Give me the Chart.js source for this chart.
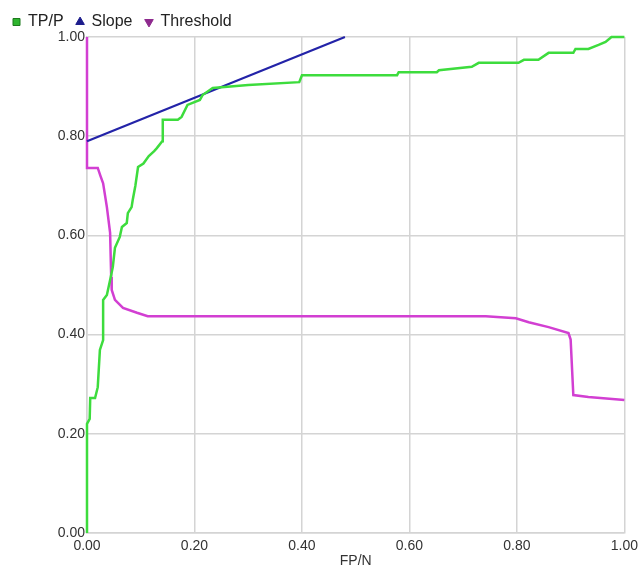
<!DOCTYPE html>
<html>
<head>
<meta charset="utf-8">
<script src="https://cdn.jsdelivr.net/npm/chart.js@4"></script>
<style>
  html, body { margin: 0; padding: 0; background: #fff; }
  #roc { display: block; }
</style>
</head>
<body>
<canvas id="roc" width="643" height="570"></canvas>
<script>
// series
const tpX = [0, 0, 0.005, 0.006, 0.015, 0.02, 0.024, 0.03, 0.03, 0.037, 0.043, 0.048, 0.052, 0.061, 0.065, 0.074, 0.076, 0.083, 0.085,
  0.09, 0.095, 0.105, 0.115, 0.125, 0.13, 0.14, 0.141, 0.169, 0.176, 0.187, 0.21, 0.215, 0.234, 0.3, 0.395, 0.4, 0.577, 0.58, 0.651,
  0.655, 0.716, 0.729, 0.803, 0.813, 0.84, 0.859, 0.905, 0.909, 0.933, 0.952, 0.965, 0.976, 1.0];
const tpY = [0, 0.22, 0.23, 0.272, 0.272, 0.294, 0.369, 0.389, 0.47, 0.48, 0.51, 0.536, 0.575, 0.597, 0.617, 0.625, 0.645, 0.657, 0.671,
  0.7, 0.738, 0.745, 0.76, 0.77, 0.776, 0.79, 0.833, 0.833, 0.839, 0.863, 0.873, 0.883, 0.897, 0.903, 0.909, 0.923, 0.923, 0.929, 0.929,
  0.933, 0.94, 0.948, 0.948, 0.954, 0.954, 0.968, 0.968, 0.976, 0.976, 0.984, 0.99, 1.0, 1.0];

const slopeX = [0, 0.48];
const slopeY = [0.79, 1.0];

const thrX = [0, 0, 0.02, 0.025, 0.03, 0.037, 0.043, 0.045, 0.046, 0.052, 0.067, 0.093, 0.113, 0.742, 0.798, 0.822, 0.859, 0.896, 0.9,
  0.905, 0.933, 1.0];
const thrY = [1.0, 0.736, 0.736, 0.72, 0.705, 0.657, 0.605, 0.516, 0.49, 0.47, 0.454, 0.444, 0.437, 0.437, 0.433, 0.425, 0.415, 0.403,
  0.39, 0.278, 0.274, 0.268];

const axisTicks = [0, 0.2, 0.4, 0.6, 0.8, 1.0];

function pts(xs, ys) {
  return xs.map((x, i) => ({ x: x, y: ys[i] }));
}

const font = { family: 'Liberation Sans, Arial, sans-serif', size: 14 };

const ctx = document.getElementById('roc').getContext('2d');
new Chart(ctx, {
  type: 'line',
  data: {
    datasets: [
      {
        label: 'TP/P',
        data: pts(tpX, tpY),
        borderColor: '#3ddc3d',
        borderWidth: 2.5,
        pointRadius: 0,
        pointStyle: 'rect',
        pointBackgroundColor: '#2fb52f',
        pointBorderColor: '#1d7a1d',
        pointBorderWidth: 1,
        clip: false
      },
      {
        label: 'Slope',
        data: pts(slopeX, slopeY),
        borderColor: '#2323a8',
        borderWidth: 2.2,
        pointRadius: 0,
        pointStyle: 'triangle',
        pointBackgroundColor: '#1c1c8c',
        pointBorderColor: '#1c1c8c',
        pointBorderWidth: 1,
        clip: false
      },
      {
        label: 'Threshold',
        data: pts(thrX, thrY),
        borderColor: '#d23fd2',
        borderWidth: 2.5,
        pointRadius: 0,
        pointStyle: 'triangle',
        pointRotation: 180,
        pointBackgroundColor: '#8e2a8e',
        pointBorderColor: '#8e2a8e',
        pointBorderWidth: 1,
        clip: false
      }
    ]
  },
  options: {
    responsive: false,
    animation: false,
    layout: { padding: { left: 0, right: 14, top: 1, bottom: 0 } },
    plugins: {
      tooltip: { enabled: false },
      legend: {
        position: 'top',
        align: 'start',
        maxHeight: 36,
        labels: {
          usePointStyle: true,
          boxWidth: 7,
          boxHeight: 7,
          padding: 13,
          color: '#222',
          font: { family: font.family, size: 16 }
        }
      }
    },
    scales: {
      x: {
        type: 'linear',
        min: 0,
        max: 1,
        afterBuildTicks: s => { s.ticks = axisTicks.map(v => ({ value: v })); },
        afterFit: s => { s.height = 37; },
        grid: { color: '#d4d4d4', lineWidth: 1.5, drawTicks: false },
        border: { color: '#d4d4d4', width: 1.5 },
        ticks: {
          padding: 5,
          color: '#333',
          font: font,
          maxRotation: 0,
          callback: v => v.toFixed(2)
        },
        title: {
          display: true,
          text: 'FP/N',
          color: '#333',
          font: font,
          padding: { top: 0, bottom: 0 }
        }
      },
      y: {
        type: 'linear',
        min: 0,
        max: 1,
        afterBuildTicks: s => { s.ticks = axisTicks.map(v => ({ value: v })); },
        afterFit: s => { s.width = 87; },
        grid: { color: '#d4d4d4', lineWidth: 1.5, drawTicks: false },
        border: { color: '#d4d4d4', width: 1.5 },
        ticks: {
          padding: 2,
          color: '#333',
          font: font,
          callback: v => v.toFixed(2)
        }
      }
    }
  }
});
</script>
</body>
</html>
